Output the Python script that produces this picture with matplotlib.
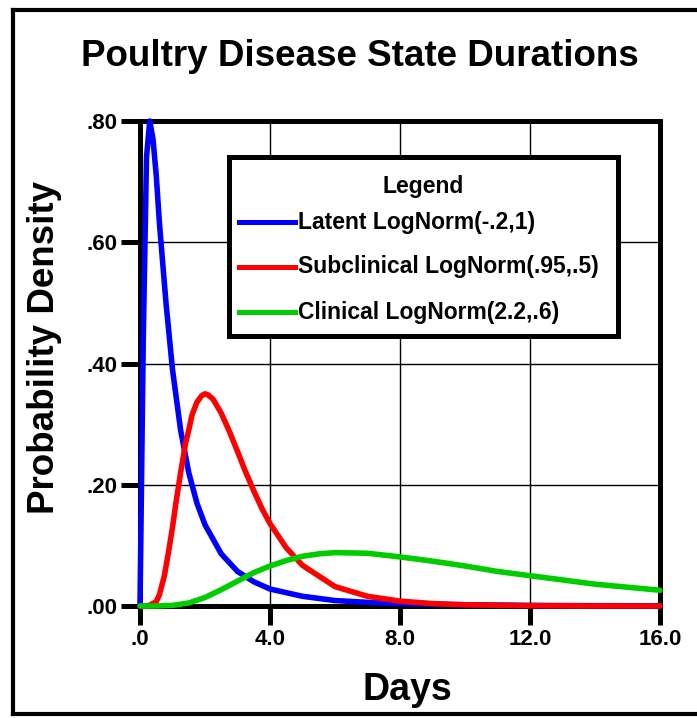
import matplotlib
matplotlib.use('Agg')
import matplotlib.pyplot as plt
from matplotlib.lines import Line2D
from matplotlib.patches import Rectangle

# ---------------- data ----------------
latent_x = [0, 0.1, 0.2, 0.3, 0.4, 0.5, 0.6, 0.8, 1.0, 1.25, 1.5, 1.75, 2.0, 2.5,
            3.0, 3.5, 4.0, 5, 6, 7, 8, 10, 12, 14, 16]
latent_y = [0, 0.44, 0.74, 0.80, 0.77, 0.71, 0.63, 0.50, 0.39, 0.29, 0.22, 0.17,
            0.134, 0.086, 0.057, 0.040, 0.028, 0.016, 0.009, 0.006, 0.004, 0.002,
            0.001, 0.0005, 0.0003]

subclin_x = [0, 0.25, 0.5, 0.6, 0.75, 0.9, 1.0, 1.1, 1.25, 1.4, 1.5, 1.6, 1.75,
             1.9, 2.0, 2.1, 2.25, 2.5, 2.75, 3.0, 3.25, 3.5, 3.75, 4.0, 4.5, 5,
             6, 7, 8, 9, 10, 12, 14, 16]
subclin_y = [0, 0.0, 0.007, 0.019, 0.05, 0.096, 0.13, 0.168, 0.22, 0.268, 0.29,
             0.315, 0.336, 0.347, 0.35, 0.348, 0.341, 0.318, 0.288, 0.255, 0.221,
             0.19, 0.161, 0.136, 0.096, 0.067, 0.032, 0.016, 0.008, 0.004, 0.002,
             0.0005, 0, 0]

clin_x = [0, 0.5, 1, 1.5, 2, 2.5, 3, 3.5, 4, 4.5, 5, 5.5, 6, 7, 8, 9, 10, 11, 12,
          13, 14, 15, 16]
clin_y = [0, 0, 0.001, 0.005, 0.014, 0.027, 0.041, 0.055, 0.066, 0.075, 0.082,
          0.086, 0.088, 0.087, 0.081, 0.074, 0.066, 0.057, 0.050, 0.043, 0.036,
          0.031, 0.026]

series_labels = ["Latent LogNorm(-.2,1)", "Subclinical LogNorm(.95,.5)",
                 "Clinical LogNorm(2.2,.6)"]
series_colors = ["#0000ff", "#ff0000", "#00cc00"]

x_ticks = [0, 4, 8, 12, 16]
x_tick_labels = [".0", "4.0", "8.0", "12.0", "16.0"]
y_ticks = [0, 0.2, 0.4, 0.6, 0.8]
y_tick_labels = [".00", ".20", ".40", ".60", ".80"]

title = "Poultry Disease State Durations"
x_label = "Days"
y_label = "Probability Density"
legend_title = "Legend"

# ---------------- figure ----------------
W, H = 697, 718
plt.rcParams['font.family'] = ['Liberation Sans', 'DejaVu Sans']
plt.rcParams['font.weight'] = 'bold'
fig = plt.figure(figsize=(W / 100, H / 100), dpi=100)
fig.patch.set_facecolor('white')


def fx(px):
    return px / W


def fy(py):
    return 1 - py / H


ax = fig.add_axes([fx(140), fy(606), fx(660) - fx(140), fy(121) - fy(606)])
ax.set_xlim(0, 16)
ax.set_ylim(0, 0.8)

for xs, ys, c, lab in zip([latent_x, subclin_x, clin_x],
                          [latent_y, subclin_y, clin_y],
                          series_colors, series_labels):
    ax.plot(xs, ys, color=c, lw=4.0, label=lab, clip_on=False, zorder=3,
            solid_joinstyle='round', solid_capstyle='round')

ax.set_xticks(x_ticks)
ax.set_xticklabels(x_tick_labels)
ax.set_yticks(y_ticks)
ax.set_yticklabels(y_tick_labels)
ax.tick_params(direction='out', length=13.5, width=3.6, color='black',
               labelsize=16, pad=3)
for lab in ax.get_xticklabels() + ax.get_yticklabels():
    lab.set_fontweight('bold')
ax.grid(True, color='black', lw=1.0)
ax.set_axisbelow(True)
for s in ax.spines.values():
    s.set_linewidth(3.6)
    s.set_color('black')

# axis labels and title
fig.text(fx(407), fy(690), x_label, ha='center', va='center', fontsize=27,
         fontweight='bold')
fig.text(fx(45), fy(347), y_label, ha='center', va='center', fontsize=26.5,
         fontweight='bold', rotation=90)
fig.text(fx(360), fy(56), title, ha='center', va='center', fontsize=26.5,
         fontweight='bold')

# ---------------- legend box (manual) ----------------
lx0, ly0, lx1, ly1 = 229, 157, 618, 336
fig.patches.append(Rectangle((fx(lx0), fy(ly1)), fx(lx1) - fx(lx0),
                             fy(ly0) - fy(ly1), transform=fig.transFigure,
                             facecolor='white', edgecolor='black', lw=3.6,
                             zorder=5))
fig.text(fx((lx0 + lx1) / 2), fy(187), legend_title, ha='center', va='center',
         fontsize=16.5, fontweight='bold', zorder=6)
row_y = [222, 267, 312]
for ry, c, lab in zip(row_y, series_colors, series_labels):
    fig.add_artist(Line2D([fx(239), fx(295)], [fy(ry), fy(ry)], color=c, lw=3.6,
                          transform=fig.transFigure, zorder=6))
    fig.text(fx(298), fy(ry), lab, ha='left', va='center', fontsize=16.5,
             fontweight='bold', zorder=6)

# outer frame (left, top, bottom edges)
frame_kw = dict(color='black', lw=3.0, transform=fig.transFigure, zorder=7)
fig.add_artist(Line2D([fx(13), fx(13)], [fy(10), fy(714)], **frame_kw))
fig.add_artist(Line2D([fx(13), 1], [fy(10), fy(10)], **frame_kw))
fig.add_artist(Line2D([fx(13), 1], [fy(714), fy(714)], **frame_kw))

fig.savefig('out.png', dpi=100, facecolor='white')
